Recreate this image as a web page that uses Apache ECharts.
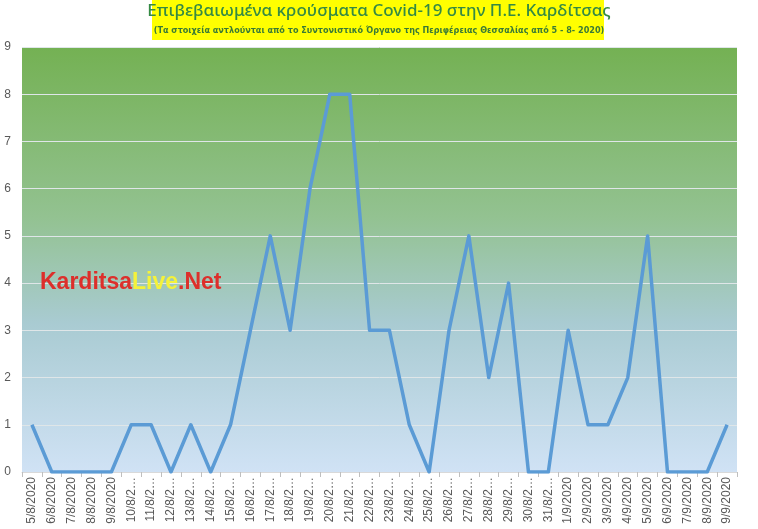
<!DOCTYPE html>
<html>
<head>
<meta charset="utf-8">
<script src="https://cdn.jsdelivr.net/npm/echarts@6/dist/echarts.min.js"></script>
<style>
  html, body { margin: 0; padding: 0; background: #fff; }
  #chart { width: 758px; height: 529px; }
</style>
</head>
<body>
<div id="chart"></div>
<script>
// daily confirmed cases, 5/8/2020 - 9/9/2020
const dates = [
  '5/8/2020', '6/8/2020', '7/8/2020', '8/8/2020', '9/8/2020', '10/8/2020',
  '11/8/2020', '12/8/2020', '13/8/2020', '14/8/2020', '15/8/2020', '16/8/2020',
  '17/8/2020', '18/8/2020', '19/8/2020', '20/8/2020', '21/8/2020', '22/8/2020',
  '23/8/2020', '24/8/2020', '25/8/2020', '26/8/2020', '27/8/2020', '28/8/2020',
  '29/8/2020', '30/8/2020', '31/8/2020', '1/9/2020', '2/9/2020', '3/9/2020',
  '4/9/2020', '5/9/2020', '6/9/2020', '7/9/2020', '8/9/2020', '9/9/2020'
];
const cases = [
  1, 0, 0, 0, 0, 1, 1, 0, 1, 0, 1, 3,
  5, 3, 6, 8, 8, 3, 3, 1, 0, 3, 5, 2,
  4, 0, 0, 3, 1, 1, 2, 5, 0, 0, 0, 1
];
const yTicks = [0, 1, 2, 3, 4, 5, 6, 7, 8, 9];

const titleText = 'Επιβεβαιωμένα κρούσματα Covid-19 στην Π.Ε. Καρδίτσας';
const subText = '(Τα στοιχεία αντλούνται από το Συντονιστικό Όργανο της Περιφέρειας Θεσσαλίας από 5 - 8- 2020)';

let chart = echarts.init(document.getElementById('chart'));

chart.setOption({
  animation: false,
  grid: {
    left: 22, right: 21, top: 47, bottom: 57,
    show: true,
    borderWidth: 0,
    backgroundColor: new echarts.graphic.LinearGradient(0, 0, 0, 1, [
      { offset: 0, color: '#74b153' },
      { offset: 0.4, color: '#93c291' },
      { offset: 0.65, color: '#a9cbd2' },
      { offset: 1, color: '#d0e2f5' }
    ])
  },
  xAxis: {
    type: 'category',
    data: dates,
    boundaryGap: true,
    axisLine: { lineStyle: { color: '#d9d9d9' } },
    axisTick: { show: true, length: 5, lineStyle: { color: '#bfbfbf' } },
    axisLabel: {
      rotate: 90,
      interval: 0,
      color: '#595959',
      fontFamily: 'Liberation Sans',
      fontSize: 12,
      width: 48,
      overflow: 'truncate',
      ellipsis: '…',
      margin: 5
    }
  },
  yAxis: {
    type: 'value',
    min: yTicks[0],
    max: yTicks[yTicks.length - 1],
    interval: 1,
    axisLine: { show: false },
    axisTick: { show: false },
    axisLabel: {
      color: '#595959',
      fontFamily: 'Liberation Sans',
      fontSize: 12,
      margin: 11
    },
    splitLine: { lineStyle: { color: '#dfe6e8', width: 1 } }
  },
  series: [{
    type: 'line',
    data: cases,
    symbol: 'none',
    lineStyle: { color: '#5b9bd5', width: 3.5, join: 'round' }
  }],
  graphic: [
    {
      type: 'rect',
      left: 152, top: 0,
      shape: { width: 452, height: 40 },
      style: { fill: '#ffff00' },
      z: 10
    },
    {
      type: 'text',
      left: 'center', top: 3,
      style: {
        text: titleText,
        fill: '#358a44',
        font: '500 17px "Noto Sans"'
      },
      z: 11
    },
    {
      type: 'text',
      left: 'center', top: 26,
      style: {
        text: subText,
        fill: '#3a7a36',
        font: 'bold 9px "DejaVu Sans Condensed"'
      },
      z: 11
    },
    {
      type: 'text',
      left: 40, top: 271,
      style: {
        text: '{r|Karditsa}{y|Live}{r|.Net}',
        rich: {
          r: { fill: '#dd2f2b', font: 'bold 23px "Liberation Sans"' },
          y: { fill: '#f4f23a', font: 'bold 23px "Liberation Sans"' }
        }
      },
      z: 11
    }
  ]
});
</script>
</body>
</html>
